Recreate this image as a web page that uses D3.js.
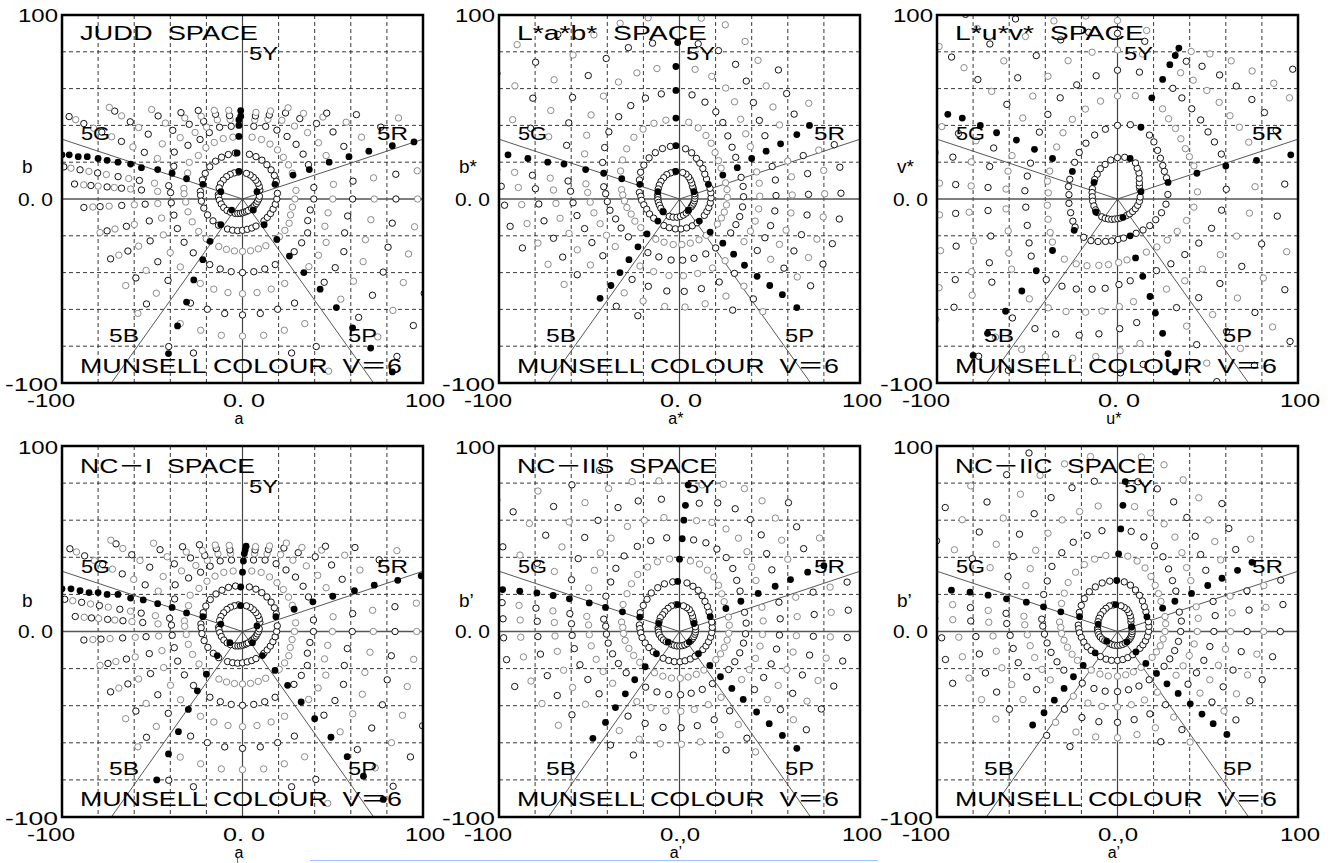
<!DOCTYPE html>
<html>
<head>
<meta charset="utf-8">
<script src="https://cdn.jsdelivr.net/npm/d3@7"></script>
<style>
body{margin:0;background:#fff;}
svg text{font-family:"Liberation Sans",Arial,"Noto Sans CJK JP",sans-serif;fill:#000;white-space:pre;}
</style>
</head>
<body>
<svg id="chart" width="1332" height="863"></svg>
<script>
// grid and reference lines
const gridVals = [-80, -60, -40, -20, 20, 40, 60, 80];
const hueLineDeg = [18, 162, 234, 306];
const hueNames = ["5Y", "5G", "5R", "5B", "5P"];

// open samples: [hue index, hue angle (deg), radii per chroma step 2,4,6,...]
const juddRays = [
[1,27,[10.8,21,31,41,52,63,74,86,97]],
[2,36,[11.5,21.8,31.5,41.5,52,62,71,78]],
[3,45,[12.1,22.4,32,42,51,58,63,66]],
[4,54,[12.6,23,33,42,49,54,57.5]],
[5,63,[13.2,23.7,33.5,42,48,52.5,55.6]],
[6,72,[13.7,24.2,34,41.5,45.5,48,50.3]],
[7,81,[14.1,24.6,34,40,43.5,45.7,47.7]],
[9,99,[14.8,25.3,34,40,43.7,45.9,48.8]],
[10,108,[14.9,25.4,34.5,41,45.2,48.4,50.6]],
[11,117,[15,25.5,34.5,40.5,43.8,47.4,50.5,54]],
[12,126,[15,25.4,34.5,40,44.7,50.2,54.4,58]],
[13,136,[14.8,25.2,34,42,48,53.7,59.4,65,70]],
[14,146,[14.7,24.9,35.6,45.6,53.6,63,69.4,75,80.8,85.4,89]],
[15,155,[14.3,24.5,33.5,42,52,60,67,74,80,86,91,97,102,106]],
[17,170,[13.6,23.7,33,41.5,49.5,58,64,70,76.6,81.5,86.4,91.4,96.5,100.5]],
[18,175,[13.3,23.3,32.5,40,47.2,56.2,62.2,67.3,71.3,75.3,80.3,84.3,88.3,93.4]],
[19,183,[12.8,22.8,31.5,39.5,47,54,60,67,74,79,83,88]],
[20,193,[12.1,22,31,39,46,53,61.5,66,72.5,77,81]],
[21,204,[11.4,21.2,30.5,39.5,48,56,63,69.5,75,80]],
[22,216,[10.6,20.2,30,40,49.5,58,66,73,80]],
[23,227,[9.8,19.5,29.5,40,50.5,60.5,70,78,85]],
[25,243,[8.8,18.3,29,40,51.5,63.5,76,90]],
[26,252,[8.3,17.8,28.8,40,51.5,63,75,88]],
[27,261,[7.9,17.4,28.6,40,51.5,63,75]],
[28,270,[7.5,17,28.5,40,51.5,63,74.5]],
[29,279,[7.2,16.7,28.5,40,51.5,63,75]],
[30,288,[7.1,16.6,28.5,40,51.5,63,75,88]],
[31,297,[7,16.5,28.5,40,51.5,63.5,76,90,105]],
[33,315,[7.1,16.8,29,40.5,52,64,77,91,106,121]],
[34,324,[7.3,17,29,40.5,52,63.5,76,89,103,117]],
[35,333,[7.6,17.4,29,40.5,52,63,75,87.5,100,113]],
[36,342,[8,17.8,28,38,48,59.5,71.6,84.8,96.7,109]],
[37,351,[8.4,18.4,28,38,48,59,72,84,96.5,109]],
[38,0,[9,19,29,39.5,50,61,73,85,97,110]],
[39,9,[9.5,19.6,30,40,51,62,73.5,86,98,111]]
];
const juddFilled = [
[-2,15],[-3,25],[-2,34],[-2,40],[-2,43],[-1,45],[-1,48],
[-12,4],[-22,8],[-31,11],[-39,14],[-47,16],[-56,17],[-62,19],[-69,20],[-75,21],[-80,22],[-86,23],[-91,23],[-96,24],[-100,24],
[8,4],[18,8],[28,13],[37,16],[48,20],[59,23],[70,26],[83,29],[95,31],
[-6,-6],[-12,-14],[-18,-23],[-22,-33],[-27,-44],[-31,-56],[-36,-69],[-41,-84],
[6,-6],[12,-14],[19,-22],[26,-31],[34,-40],[43,-49],[52,-59],[61,-70],[71,-81],[83,-94]
];

const labRays = [
[1,36,[9.5,18.5,28.5,38.5,48.5,58.5,68.5,78.5,88.5]],
[2,44,[10,19.5,30,40.5,51,61.5,72,82.5]],
[3,52,[11,21,32,43.5,55,66.5,78,89]],
[4,60,[12,22.5,35,48,61,74,87]],
[5,67,[13,24,37.5,51.5,65.5,79.5,93]],
[6,75,[14,26,40,54.5,69,83.5,98]],
[7,83,[14.5,27.5,42,57,71,85,99]],
[9,100,[15,29,43.5,58,72,86,100]],
[10,109,[15,29,43.5,58,72.5,87,101]],
[11,118,[15,28.5,43,57.5,72,86.5,101,115]],
[12,127,[14.5,28,42,56,70,84,98,112]],
[13,137,[14,27,40,53.5,67,81,95,109,123]],
[14,146,[13.5,26,38,50,62,74,86,98,110,122,134]],
[15,155,[13,24.5,36,47,58,69,80,91,102,113,124,135,146,157]],
[17,171,[12.3,22.5,32.5,42.5,52.5,62.5,72.5,82.5,92.5,102.5,112,122,132,142]],
[18,176,[12,21.5,31.5,41,51,60.5,70,80,89.5,99,108,118,128,138]],
[19,182,[12,21,30.5,40,49.5,59,68.5,78,87.5,97,106,116]],
[20,189,[11.8,20,29.5,39,48,57.5,67,76,85.5,95,104]],
[21,197,[11.6,19,28,37,46,55,64,73,82,91]],
[22,206,[11.5,18.5,27.5,36,45,54,63,72,81]],
[23,216,[11.4,17.7,26.5,35,44,52.5,61,70,79]],
[25,239,[11,16.8,25.5,34,42.5,51,59.5,68]],
[26,250,[10.5,16.6,25,33.5,42,50.5,59,67.5]],
[27,262,[10,16.4,25,33.5,42,50.5,59]],
[28,273,[9.5,16.3,24.8,33.3,41.8,50.3,58.8]],
[29,284,[9,16.2,24.7,33.2,41.7,50.2,58.7]],
[30,296,[8.5,16.2,24.7,33.2,41.7,50.2,58.7,67.2]],
[31,307,[8,16.2,24.7,33.3,42,50.6,59.3,68,76.7]],
[33,327,[7.8,16.4,25,33.8,42.6,51.4,60.2,69,77.8,86.6]],
[34,336,[7.9,16.6,25.4,34.2,43,51.8,60.6,69.4,78.2,87]],
[35,344,[8.1,16.9,25.8,34.7,43.6,52.5,61.4,70.3,79.2,88.1]],
[36,353,[8.3,17.2,26.2,35.2,44.2,53.2,62.2,71.2,80.2,89.2]],
[37,2,[8.5,17.5,26.5,35.5,44.5,53.5,62.5,71.5,80.5,89.5]],
[38,11,[8.7,17.7,26.8,35.9,45,54.1,63.2,72.3,81.4,90.5]],
[39,19,[8.9,17.9,27,36.1,45.2,54.3,63.4,72.5,81.6,90.7]]
];
const labFilled = [
[-2,15],[-2,29],[-2,44],[-2,59],[-2,72],[-1,85],
[-12,4],[-22,8],[-32,11],[-42,14],[-52,16],[-64,19],[-73,20],[-84,22],[-95,24],
[8,4],[16,8],[24,13],[32,17],[40,22],[48,26],[56,30],[65,35],[72,40],
[-9,-7],[-12,-12],[-18,-19],[-23,-26],[-28,-33],[-33,-40],[-38,-47],[-44,-54],
[5,-6],[11,-12],[17,-18],[24,-24],[30,-30],[36,-36],[43,-42],[50,-47],[57,-52],[65,-59]
];

const luvRays = [
[1,23,[13.5,29.5,46,62.5,79,95.5,112]],
[2,30,[14,30,46,62,78,94,110]],
[3,36,[15,31,46.5,62,77,92,107,120]],
[4,43,[16.5,32.5,48,63,77,90,102]],
[5,50,[18.5,34.5,50,64,77,88,98]],
[6,57,[20,37,52,65.5,77,86,94]],
[7,63,[22,39,55,67.5,77,84,90]],
[9,80,[23,41,57,70,80,87,93]],
[10,90,[22.5,40,56,70,81,90,97]],
[11,100,[21.5,38.5,54,68,81,92,101,108]],
[12,110,[20,37,52,66,80,92,103,112]],
[13,120,[19,35,50,63.5,77,90,102,113,123]],
[14,130,[17.5,33,47,60,73,86,98,110,121,131,140]],
[15,140,[16.5,31,44,56.5,68.5,80,91,101,111,120,129,137,145,152]],
[17,158,[15,28.5,40.5,52,63,74,84.5,95,105,114,123,132,140,148]],
[18,166,[14.5,28,40,51.5,62.5,73,83.5,94,104,114,123,132,140,148]],
[19,175,[14,27,38.5,51.5,62,72,81.4,90,99,108,117,126]],
[20,185,[13.8,27,39,51,62,72,82.5,90,99,108,117]],
[21,196,[13.6,27,40,52,63,73,83,93,102,111]],
[22,206,[13.5,27.5,41.5,54.5,67,79,90,100,110]],
[23,213,[13.5,28,43,57,70,83,96,108,120]],
[25,228,[13,28,44,59,73,87,101,115]],
[26,237,[12.5,27,42,56.5,70.5,84,97.5,111]],
[27,245,[12,25.5,40,54,67.5,81,94.5]],
[28,254,[11.5,24,37.5,51,64,77,90]],
[29,262,[11,23,36,49,61.5,74,86.5]],
[30,271,[10.7,22,34.5,46.5,58.5,70.5,82.5,94.5]],
[31,279,[10.5,21.5,33.5,45,56.5,68,79.5,91,102.5]],
[33,299,[10.3,21.3,33,44.5,56,67.5,79,90.5,102,113.5]],
[34,310,[10.5,22,34,46,58,70,82,94,106,118]],
[35,321,[10.8,23,35.5,48,60.5,73,85.5,98,110.5,123]],
[36,332,[11.2,24,37.5,51,64.5,78,91.5,105,118.5,132]],
[37,343,[11.7,25.5,40,54.5,69,83.5,98,112.5,127]],
[38,354,[12.2,27,42.5,58,73.5,89,104.5,120]],
[39,5,[12.6,28,44.5,60.5,76.5,93,109,125]]
];
const luvFilled = [
[7,22],[13,39],[19,55],[25,65],[29,73],[32,78],[34,82],
[-13,9],[-25,15],[-36,22],[-46,27],[-56,32],[-67,36],[-76,40],[-86,44],[-94,46],
[13,4],[28,9],[44,14],[60,18],[77,21],[96,24],
[-12,-7],[-24,-17],[-36,-28],[-45,-39],[-53,-50],[-62,-61],[-72,-73],[-80,-85],
[3,-10],[7,-20],[10,-32],[14,-42],[18,-53],[21,-62],[25,-73],[28,-84],[32,-94]
];

const nc1Rays = [
[1,27,[10.8,21,31,41,52,62,73,85,96]],
[2,36,[11.5,21.8,31.5,41.5,51.5,61,70,77]],
[3,45,[12.1,22.4,32,41.5,50,57,62,65]],
[4,54,[12.6,23,32.5,41,47.5,52.5,56]],
[5,63,[13.2,23.5,33,41,46.5,50.5,53.5]],
[6,72,[13.7,24,33.5,40.5,44,46.5,48.5]],
[7,81,[14,24.3,33,39,42.5,44.5,46.3]],
[9,99,[14.5,24.8,33,39,42.5,44.5,47]],
[10,108,[14.6,25,33.5,40,44,47,49]],
[11,117,[14.7,25,33.5,39.5,43,46,49,52.5]],
[12,126,[14.7,25,33.5,39.5,44,49,53,56.5]],
[13,136,[14.5,24.8,33.5,41.5,47,52.5,58,63.5,68.5]],
[14,146,[14.4,24.5,35,45,53,62,68.5,74,80,84.5,88]],
[15,155,[14,24,33,41.5,51.5,59.5,66.5,73.5,79.5,85.5,90.5,96.5,101.5,105.5]],
[17,170,[13.4,23.4,32.7,41,49,57,63,69,75.5,80.5,85.5,90.5,95.5,100]],
[18,175,[13.1,23,32.2,39.5,47,55.5,61.5,66.5,71,75,80,84,88,93]],
[19,183,[12.6,22.5,31.2,39,46.5,53.5,59.5,66.5,73.5,78.5,83,88]],
[20,193,[12,21.8,30.8,38.8,45.8,53,61,66,72,76.5,81]],
[21,204,[11.3,21,30.3,39.3,47.8,55.8,63,69.5,75,80]],
[22,216,[10.5,20,29.8,39.8,49.3,58,66,73,80]],
[23,227,[9.7,19.3,29.3,39.8,50.3,60.3,70,78,85]],
[25,243,[8.7,18.2,28.8,39.8,51.3,63.3,76,90]],
[26,252,[8.2,17.7,28.6,39.8,51.3,63,75,88]],
[27,261,[7.8,17.3,28.4,39.8,51.3,63,75]],
[28,270,[7.4,16.9,28.3,39.8,51.3,63,74.5]],
[29,279,[7.1,16.6,28.3,39.8,51.3,63,75]],
[30,288,[7,16.5,28.3,39.8,51.3,63,75,88]],
[31,297,[6.9,16.4,28.3,39.8,51.3,63.3,75.8,89.5,104]],
[33,315,[7,16.7,28.8,40.3,51.8,63.8,76.5,90,104,118]],
[34,324,[7.2,16.9,28.8,40.3,51.8,63.3,75.5,88.5,102,115]],
[35,333,[7.5,17.3,28.8,40.3,51.8,62.8,74.5,87,99.5,112]],
[36,342,[7.9,17.7,27.8,37.8,47.8,59.3,71.3,84.3,96,108]],
[37,351,[8.3,18.3,27.8,37.8,47.8,58.8,71.5,83.5,96,108]],
[38,0,[8.9,18.9,28.8,39.3,49.8,60.8,72.5,84.5,96.5,109]],
[39,9,[9.4,19.5,29.8,39.8,50.8,61.8,73,85.5,97.5,110]]
];
const nc1Filled = [
[-1,14],[-1,24],[0,32],[0.5,38],[1,42],[1.5,44],[2,46],
[-12,4],[-22,8],[-31,10],[-39,13],[-47,15],[-55,17],[-62,18],[-69,20],[-75,20],[-80,21],[-85,21],[-90,22],[-95,23],[-100,23],
[8,3],[18.5,8],[28.6,12],[39,16],[50,19],[62,22],[73,25],[86,27.6],[99,30],
[-7,-6],[-14,-13],[-20,-23],[-25,-32],[-30,-42],[-35.5,-54],[-41,-66],[-47.5,-80],
[5.5,-6],[11,-13],[18,-21],[25,-29],[32.5,-38],[40,-47],[49,-57],[58,-67.5],[67,-78],[78,-90.5]
];

const nc2sRays = [
[1,33,[9.5,19.5,29.5,40,50.5,61,71.5,82,92.5]],
[2,41,[10,20.5,31,42,53,64,75,86]],
[3,49,[11,21.5,33,45,57,69,81,92]],
[4,57,[12,23,35,47.5,60,72,84]],
[5,65,[13,24.5,36.5,49,61,73,85]],
[6,73,[13.5,25.5,38,50,61.5,72.5,83]],
[7,81,[14,26.5,38.5,50,60.5,70,80]],
[9,98,[14.5,27,39.5,51,62,72,82]],
[10,108,[14.5,27,39.5,51.5,63,74,85]],
[11,117,[14,26.5,39,51.5,63.5,75,86.5,97.5]],
[12,127,[13.5,26,38.5,51,63,75,87,99]],
[13,136,[13,25,37,49,61,73,85,97,109]],
[14,145,[13,24.5,35.5,46.5,57.5,68.5,79.5,90.5,101.5,112.5,123.5]],
[15,155,[12.5,24,34.5,45,55.5,66,76.5,87,97.5,108,118.5,129,139.5,150]],
[17,171,[12,22.5,32.5,42.5,52,61.5,71,80.5,90,99.5,109,118.5,128,137.5]],
[18,176,[11.8,22,31.5,41,50.5,60,69.5,79,88.5,98,107.5,117,126.5,136]],
[19,182,[11.6,21.5,31,40.5,50,59.5,69,78.5,88,97.5,107,116.5]],
[20,189,[11.3,21,30.5,40,49.5,59,68.5,78,87.5,97,106.5]],
[21,198,[10.6,20,29.5,39,48.5,58,67.5,77,86.5,96]],
[22,207,[10,19,28.5,38,47.5,57,66.5,76,85.5]],
[23,217,[9.2,18.2,27.6,37,46.4,55.8,65.2,74.6,84]],
[25,238,[8.2,17,26.2,35.4,44.6,53.8,63,72.2]],
[26,249,[8,16.7,25.8,34.9,44,53.1,62.2,71.3]],
[27,260,[7.9,16.5,25.5,34.5,43.5,52.5,61.5]],
[28,271,[7.8,16.3,25.2,34.1,43,51.9,60.8]],
[29,281,[7.8,16.1,25,33.9,42.8,51.7,60.6]],
[30,292,[7.8,16,24.9,33.7,42.5,51.3,60.1,68.9]],
[31,303,[7.8,15.9,24.8,33.5,42.3,51,59.8,68.6,77.4]],
[33,323,[8,16.2,25.2,34.1,43.1,52,61,70,79,88]],
[34,332,[8.2,16.6,25.7,34.7,43.8,52.8,61.9,71,80,89]],
[35,341,[8.4,17,26.2,35.3,44.5,53.7,62.9,72,81.2,90.4]],
[36,350,[8.6,17.5,26.8,36,45.3,54.6,63.9,73.2,82.5,91.8]],
[37,358,[8.8,17.9,27.3,36.6,46,55.4,64.8,74.2,83.6,93]],
[38,7,[9,18.3,27.8,37.2,46.7,56.2,65.7,75.2,84.7,94.2]],
[39,16,[9.1,18.6,28.2,37.5,47.5,57.3,67,77,86.8,96.6]]
];
const nc2sFilled = [
[-1,14.5],[-1,27],[0,39],[1.5,50],[2.4,60],[3.3,68],[4.8,79],
[-11.5,4.3],[-22,7.7],[-31.6,10.6],[-41,13],[-50,15.4],[-61,17.6],[-70,19.4],[-79,20.8],[-88.5,21.7],[-98,22.6],
[8,4.3],[17,8],[25.7,12.4],[34,16.3],[43.6,20.5],[53,24.4],[61.5,28],[71,32],[80,35.5],
[-6.3,-5.7],[-12.8,-12],[-19,-19],[-24.8,-26],[-30,-33.6],[-35.5,-41],[-41,-49],[-48,-57.6],
[5.4,-5.7],[10.5,-12],[16.8,-18.3],[22.7,-24.4],[29,-30.7],[35.3,-36.6],[42.7,-43.4],[49.7,-49.7],[57,-56],[65,-63]
];

const nc2cRays = [
[1,34,[9,19,29,39,49,59,69,79,89]],
[2,42,[10,20,30.5,41,51.5,62,72.5,83]],
[3,50,[11,21.5,32.5,44,55.5,67,78.5,90]],
[4,58,[12,23,35,47.5,60,72.5,85]],
[5,66,[13,24.5,37.5,50.5,63.5,76.5,89.5]],
[6,74,[13.5,26,39.5,53,66.5,80,93.5]],
[7,82,[14,27,41,54.5,68,81.5,95]],
[9,99,[14.5,27.5,41.5,55,68.5,82,95.5]],
[10,108,[14.5,27.5,41,54.5,68,81.5,95]],
[11,117,[14,27,40.5,54,67.5,81,94.5,108]],
[12,126,[13.5,26.5,39.5,52.5,65.5,78.5,91.5,104.5]],
[13,136,[13,25.5,38,50.5,63,75.5,88,100.5,113]],
[14,145,[12.5,24.5,36,47.5,59,70.5,82,93.5,105,116.5,128]],
[15,154,[12,23.5,34.5,45.5,56.5,67.5,78.5,89.5,100.5,111.5,122.5,133.5,144.5,155.5]],
[17,171,[11.2,22,32.5,42.5,52.5,62.5,72.5,82.5,92.5,102.5,112.5,122.5,132.5,142.5]],
[18,176,[11,21.5,31.5,41.5,51.5,61.5,71.5,81.5,91.5,101.5,111.5,121.5,131.5,141.5]],
[19,182,[10.8,21,31,40.5,50,59.5,69,78.5,88,97.5,107,116.5]],
[20,189,[10.5,20.3,30,39.5,49,58.5,68,77.5,87,96.5,106]],
[21,197,[10,19.5,29,38.5,48,57.5,67,76.5,86,95.5]],
[22,206,[9.3,18.7,28,37.3,46.6,55.9,65.2,74.5,83.8]],
[23,215,[8.6,17.8,27.1,36.3,45.5,54.7,63.9,73.1,82.3]],
[25,235,[7.8,16.5,25.4,34,42.6,51.2,59.8,68.4]],
[26,247,[7.7,16.2,24.9,33.4,41.9,50.4,58.9,67.4]],
[27,258,[7.6,15.9,24.5,32.9,41.3,49.7,58.1]],
[28,270,[7.5,15.6,24.1,32.4,40.7,49,57.3]],
[29,281,[7.5,15.4,23.8,32,40.2,48.4,56.6]],
[30,292,[7.5,15.2,23.5,31.7,39.8,47.9,56,64.1]],
[31,304,[7.6,15.1,23.3,31.4,39.5,47.6,55.7,63.8,71.9]],
[33,324,[7.8,15.4,23.7,31.9,40.1,48.3,56.5,64.7,72.9,81.1]],
[34,333,[7.9,15.8,24.2,32.5,40.8,49.1,57.4,65.7,74,82.3]],
[35,342,[8,16.3,24.9,33.3,41.8,50.3,58.8,67.3,75.8,84.3]],
[36,351,[8.1,16.8,25.6,34.2,43,51.8,60.6,69.4,78.2,87]],
[37,0,[8.1,17.2,26.3,35,44.2,53.4,62.6,71.8,81,90.2]],
[38,9,[8.2,17.6,27,35.8,45.3,54.8,64.3,73.8,83.3,92.8]],
[39,17,[8.2,17.9,27.5,35.8,45.6,55.4,65.2,75,84.8,94.6]]
];
const nc2cFilled = [
[-1,14.5],[-0.4,27.5],[0.6,41.8],[1.8,55.3],[3,68],[4.3,80.8],
[-10.7,4],[-21,8],[-31.4,10.6],[-41,13.3],[-50.5,15.8],[-61.5,17.6],[-71.7,19.6],[-81.7,21.2],[-92,22.3],
[7.8,2.5],[16.3,7.9],[25,12.6],[31.8,16.3],[41,20.5],[50,24.8],[57.9,28.7],[66.5,33],[74.5,37.3],
[-6,-5.2],[-12.4,-11.5],[-19,-18.3],[-24.4,-24.4],[-29.6,-30.7],[-35,-37],[-40.7,-43.8],[-47,-50.4],
[5.2,-5.6],[10.2,-11],[15.7,-17.2],[21.6,-22.6],[27.4,-28.2],[33.6,-33.4],[40.3,-39],[46.8,-44.5],[53,-49.7],[60.6,-55.5]
];

// panel layout
const panels = [
  {title:"JUDD  SPACE", tw:178, xl:"a", yl:"b", xc:"0. 0", rays:juddRays, filled:juddFilled, left:62, top:15, h:368, dy:0},
  {title:"L*a*b*  SPACE", tw:190, xl:"a*", yl:"b*", xc:"0. 0", rays:labRays, filled:labFilled, left:499, top:15, h:368, dy:0},
  {title:"L*u*v*  SPACE", tw:189, xl:"u*", yl:"v*", xc:"0. 0", rays:luvRays, filled:luvFilled, left:937, top:15, h:368, dy:0},
  {title:"NC－I  SPACE", tw:175, xl:"a", yl:"b", xc:"0. 0", rays:nc1Rays, filled:nc1Filled, left:62, top:446, h:371, dy:2},
  {title:"NC－IIS  SPACE", tw:200, xl:"a’", yl:"b’", xc:"0.,0", rays:nc2sRays, filled:nc2sFilled, left:499, top:446, h:371, dy:2},
  {title:"NC－IIC  SPACE", tw:199, xl:"a’", yl:"b’", xc:"0.,0", rays:nc2cRays, filled:nc2cFilled, left:937, top:446, h:371, dy:2}
];
const W = 361;
const rad = d => d * Math.PI / 180;

const svg = d3.select("#chart");
const defs = svg.append("defs");

panels.forEach((p, pi) => {
  const L = p.left, T = p.top, H = p.h;
  const x = d3.scaleLinear().domain([-100, 100]).range([L, L + W]);
  const y = d3.scaleLinear().domain([-100, 100]).range([T + H, T]);

  defs.append("clipPath").attr("id", "clip" + pi)
    .append("rect").attr("x", L).attr("y", T).attr("width", W).attr("height", H);

  const g = svg.append("g");
  const plot = g.append("g").attr("clip-path", "url(#clip" + pi + ")");

  // dashed grid
  plot.selectAll(".gx").data(gridVals).join("line")
    .attr("x1", d => x(d)).attr("x2", d => x(d)).attr("y1", T).attr("y2", T + H)
    .attr("stroke", "#222").attr("stroke-width", 0.9).attr("stroke-dasharray", "4,3");
  plot.selectAll(".gy").data(gridVals).join("line")
    .attr("y1", d => y(d)).attr("y2", d => y(d)).attr("x1", L).attr("x2", L + W)
    .attr("stroke", "#222").attr("stroke-width", 0.9).attr("stroke-dasharray", "4,3");

  // zero axes
  plot.append("line").attr("x1", x(0)).attr("x2", x(0)).attr("y1", T).attr("y2", T + H)
    .attr("stroke", "#444").attr("stroke-width", 1.2);
  plot.append("line").attr("y1", y(0)).attr("y2", y(0)).attr("x1", L).attr("x2", L + W)
    .attr("stroke", "#555").attr("stroke-width", 1.5);

  // principal hue lines
  plot.selectAll(".hl").data(hueLineDeg).join("line")
    .attr("x1", x(0)).attr("y1", y(0))
    .attr("x2", d => x(150 * Math.cos(rad(d))))
    .attr("y2", d => y(150 * Math.sin(rad(d))))
    .attr("stroke", "#444").attr("stroke-width", 0.9);

  // open samples
  const pts = [];
  p.rays.forEach(([k, ang, radii]) => {
    radii.forEach((r, i) => pts.push({a: r * Math.cos(rad(ang)), b: r * Math.sin(rad(ang)), i: i}));
  });
  plot.selectAll(".o").data(pts).join("circle")
    .attr("cx", d => x(d.a)).attr("cy", d => y(d.b)).attr("r", 3.2)
    .attr("fill", "#fff")
    .attr("stroke", d => (d.i >= 2 && d.i % 2 === 0) ? "#8a8a8a" : "#111")
    .attr("stroke-width", 1);

  // principal hue samples
  plot.selectAll(".f").data(p.filled).join("circle")
    .attr("cx", d => x(d[0])).attr("cy", d => y(d[1])).attr("r", 3.4)
    .attr("fill", "#000");

  // frame
  g.append("rect").attr("x", L).attr("y", T).attr("width", W).attr("height", H)
    .attr("fill", "none").attr("stroke", "#000").attr("stroke-width", 2.5);

  // labels inside
  const dy = p.dy;
  const txt = (s, tx, ty, size, tl) => {
    const t = g.append("text").attr("x", tx).attr("y", ty).attr("font-size", size).text(s);
    if (tl) t.attr("textLength", tl).attr("lengthAdjust", "spacingAndGlyphs");
    return t;
  };
  txt(p.title, L + 18, T + 25 + dy, 21, p.tw);
  txt("MUNSELL COLOUR  V＝6", L + 18, T + 358 + dy, 21, 322);
  txt(hueNames[0], L + 187, T + 45 + dy, 17.5, 29);
  txt(hueNames[1], L + 19, T + 125 + dy, 17.5, 29);
  txt(hueNames[2], L + 315, T + 125 + dy, 17.5, 31);
  txt(hueNames[3], L + 47, T + 327 + dy, 17.5, 30);
  txt(hueNames[4], L + 286, T + 327 + dy, 17.5, 29);

  // tick labels
  txt("100", L - 44, T + 7 + dy / 2, 18.5, 40);
  txt("0. 0", L - 44, T + H / 2 + 6.5, 18.5, 35);
  txt("-100", L - 57, T + H + 8, 18.5, 53);
  txt("-100", L - 35, T + H + 24, 18.5, 48);
  txt(p.xc, L + 161, T + H + 24, 18.5, p.xc === "0.,0" ? 40 : 42);
  txt("100", L + 343, T + H + 24, 18.5, 40);

  // axis names
  g.append("text").attr("x", x(-2)).attr("y", T + H + 41).attr("font-size", 16)
    .attr("text-anchor", "middle").text(p.xl);
  txt(p.yl, L - 40, T + 158 + dy * 1.5, 19);
});

// thin blue rule at the bottom of the page
svg.append("line").attr("x1", 310).attr("x2", 878).attr("y1", 860.5).attr("y2", 860.5)
  .attr("stroke", "#9ec3fb").attr("stroke-width", 1);
svg.append("line").attr("x1", 237.5).attr("x2", 237.5).attr("y1", 858).attr("y2", 863)
  .attr("stroke", "#3b6fe0").attr("stroke-width", 1);
</script>
</body>
</html>
